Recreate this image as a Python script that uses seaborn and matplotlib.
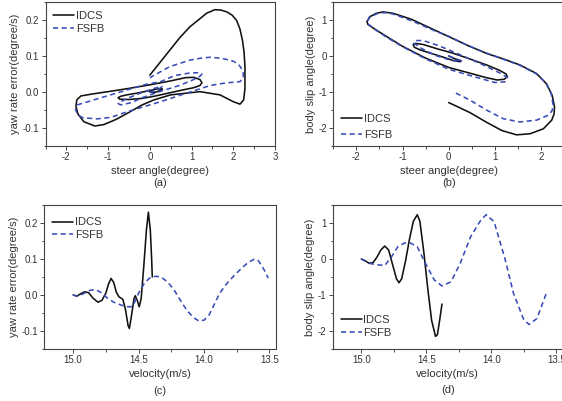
import matplotlib
matplotlib.use("Agg")
import matplotlib.pyplot as plt
import seaborn as sns
import pandas as pd
from matplotlib.ticker import MultipleLocator

sns.set_theme(style="ticks")
plt.rcParams['font.family'] = ['Liberation Sans', 'DejaVu Sans']
plt.rcParams['axes.unicode_minus'] = False

# ---------------- data ----------------
# (a) yaw rate error vs steer angle
a_idcs_steer = [0.00, 0.10, 0.20, 0.27, 0.30, 0.28, 0.15, 0.00, -0.30, -0.55, -0.70, -0.76, -0.72, -0.50,
                -0.20, 0.10, 0.45, 0.80, 1.05, 1.20, 1.25, 1.20, 1.05, 0.85, 0.50, 0.00, -0.50, -1.00,
                -1.40, -1.65, -1.75, -1.77, -1.72, -1.58, -1.32, -1.10, -0.80, -0.50, -0.20, 0.10, 0.50,
                0.90, 1.20, 1.68, 2.00, 2.16, 2.25, 2.28, 2.28, 2.26, 2.22, 2.16, 2.08, 1.97, 1.84, 1.70,
                1.56, 1.36, 1.15, 0.96, 0.72, 0.48, 0.24, 0.00]
a_idcs_yaw = [0.000, -0.002, 0.002, 0.006, 0.008, 0.010, 0.008, 0.004, -0.003, -0.008, -0.012, -0.016,
              -0.020, -0.021, -0.018, -0.012, -0.003, 0.006, 0.012, 0.018, 0.026, 0.035, 0.041, 0.040,
              0.031, 0.020, 0.010, 0.001, -0.006, -0.011, -0.022, -0.040, -0.062, -0.083, -0.095, -0.091,
              -0.076, -0.057, -0.037, -0.022, -0.008, -0.003, 0.001, -0.008, -0.027, -0.034, -0.022,
              0.010, 0.070, 0.110, 0.145, 0.176, 0.200, 0.215, 0.224, 0.229, 0.230, 0.220, 0.200, 0.182,
              0.152, 0.117, 0.082, 0.047]
a_fsfb_steer = [0.00, 0.12, 0.24, 0.29, 0.22, 0.05, -0.25, -0.50, -0.68, -0.76, -0.70, -0.45, -0.14, 0.26,
                0.70, 1.00, 1.20, 1.25, 1.18, 0.95, 0.60, 0.26, -0.14, -0.54, -0.94, -1.34, -1.74, -1.78,
                -1.72, -1.60, -1.26, -0.94, -0.54, -0.14, 0.26, 0.70, 1.10, 1.44, 1.80, 2.16, 2.24, 2.24,
                2.19, 2.12, 2.00, 1.84, 1.64, 1.44, 1.20, 0.96, 0.48, 0.00]
a_fsfb_yaw = [0.000, 0.002, 0.010, 0.015, 0.014, 0.008, -0.004, -0.016, -0.026, -0.032, -0.036, -0.030,
              -0.014, 0.002, 0.018, 0.032, 0.044, 0.050, 0.054, 0.053, 0.046, 0.029, 0.020, 0.006,
              -0.008, -0.022, -0.036, -0.050, -0.065, -0.072, -0.075, -0.071, -0.055, -0.041, -0.027,
              -0.010, 0.005, 0.018, 0.025, 0.029, 0.039, 0.052, 0.067, 0.078, 0.086, 0.091, 0.095, 0.097,
              0.094, 0.089, 0.071, 0.040]

# (b) body slip angle vs steer angle
b_idcs_steer = [0.00, 0.10, 0.20, 0.27, 0.25, 0.10, -0.10, -0.35, -0.62, -0.74, -0.77, -0.72, -0.55, -0.25,
                0.10, 0.45, 0.82, 1.10, 1.24, 1.27, 1.20, 1.05, 0.80, 0.46, 0.00, -0.50, -1.00, -1.34,
                -1.60, -1.75, -1.77, -1.70, -1.57, -1.42, -1.20, -0.80, -0.40, 0.00, 0.40, 0.82, 1.20,
                1.54, 1.90, 2.12, 2.24, 2.29, 2.28, 2.23, 2.05, 1.76, 1.47, 1.15, 0.82, 0.46, 0.20, 0.00]
b_idcs_slip = [0.00, -0.06, -0.11, -0.13, -0.16, -0.13, -0.04, 0.06, 0.17, 0.24, 0.31, 0.35, 0.32, 0.20,
               0.075, -0.08, -0.25, -0.40, -0.50, -0.58, -0.65, -0.67, -0.60, -0.48, -0.32, -0.06, 0.27,
               0.54, 0.75, 0.88, 0.96, 1.10, 1.19, 1.23, 1.19, 1.02, 0.78, 0.54, 0.30, 0.07, -0.09, -0.25,
               -0.49, -0.78, -1.10, -1.42, -1.62, -1.79, -2.03, -2.17, -2.20, -2.08, -1.85, -1.58, -1.42,
               -1.30]
b_fsfb_steer = [0.00, 0.10, 0.22, 0.27, 0.20, 0.00, -0.30, -0.60, -0.76, -0.72, -0.55, -0.20, 0.20, 0.70,
                1.10, 1.27, 1.22, 1.00, 0.50, 0.00, -0.50, -1.00, -1.34, -1.60, -1.77, -1.72, -1.55, -1.40,
                -1.20, -0.80, -0.30, 0.00, 0.40, 0.82, 1.20, 1.54, 1.90, 2.10, 2.22, 2.26, 2.24, 2.16,
                1.90, 1.54, 1.18, 0.82, 0.46, 0.10]
b_fsfb_slip = [0.00, -0.05, -0.11, -0.14, -0.15, -0.10, 0.02, 0.22, 0.36, 0.43, 0.43, 0.28, 0.06, -0.22,
               -0.47, -0.60, -0.72, -0.74, -0.56, -0.37, -0.08, 0.26, 0.52, 0.74, 0.92, 1.08, 1.18, 1.21,
               1.17, 0.98, 0.70, 0.55, 0.30, 0.08, -0.10, -0.26, -0.50, -0.75, -1.05, -1.37, -1.52, -1.65,
               -1.79, -1.84, -1.75, -1.51, -1.23, -1.00]

# (c) yaw rate error vs velocity
c_idcs_vel = [15.00, 14.97, 14.94, 14.91, 14.88, 14.85, 14.81, 14.78, 14.75, 14.73, 14.71, 14.69, 14.67,
              14.65, 14.62, 14.60, 14.58, 14.57, 14.555, 14.535, 14.525, 14.51, 14.495, 14.48, 14.46,
              14.44, 14.425, 14.41, 14.40, 14.395]
c_idcs_yaw = [0.000, -0.003, 0.004, 0.009, 0.006, -0.008, -0.020, -0.015, 0.005, 0.030, 0.046, 0.035,
              0.008, -0.005, -0.012, -0.040, -0.085, -0.093, -0.060, -0.010, -0.002, -0.015, -0.033,
              -0.010, 0.080, 0.180, 0.230, 0.180, 0.100, 0.050]
c_fsfb_vel = [15.00, 14.96, 14.92, 14.87, 14.83, 14.79, 14.74, 14.69, 14.64, 14.60, 14.56, 14.53, 14.50,
              14.46, 14.42, 14.37, 14.33, 14.28, 14.23, 14.18, 14.13, 14.08, 14.04, 14.00, 13.96, 13.92,
              13.88, 13.83, 13.78, 13.72, 13.67, 13.62, 13.59, 13.56, 13.53, 13.51]
c_fsfb_yaw = [0.000, -0.004, 0.004, 0.013, 0.015, 0.008, -0.008, -0.020, -0.027, -0.032, -0.033, -0.020,
              0.005, 0.030, 0.046, 0.052, 0.050, 0.037, 0.015, -0.015, -0.043, -0.063, -0.072, -0.070,
              -0.055, -0.025, 0.005, 0.030, 0.050, 0.072, 0.088, 0.099, 0.098, 0.082, 0.063, 0.047]

# (d) body slip angle vs velocity
d_idcs_vel = [15.00, 14.97, 14.94, 14.91, 14.88, 14.85, 14.82, 14.79, 14.76, 14.73, 14.71, 14.69, 14.66,
              14.63, 14.60, 14.57, 14.55, 14.52, 14.49, 14.46, 14.43, 14.415, 14.40, 14.38]
d_idcs_slip = [0.00, -0.05, -0.12, -0.10, 0.05, 0.25, 0.36, 0.25, -0.15, -0.55, -0.66, -0.55, -0.05, 0.55,
               1.05, 1.23, 1.05, 0.20, -0.80, -1.70, -2.15, -2.10, -1.75, -1.25]
d_fsfb_vel = [15.00, 14.94, 14.88, 14.82, 14.77, 14.72, 14.67, 14.63, 14.57, 14.52, 14.44, 14.38, 14.31,
              14.24, 14.16, 14.08, 14.04, 13.98, 13.90, 13.83, 13.75, 13.71, 13.65, 13.58]
d_fsfb_slip = [0.00, -0.12, -0.16, -0.18, 0.05, 0.34, 0.44, 0.46, 0.34, -0.03, -0.58, -0.75, -0.63, -0.12,
               0.62, 1.09, 1.23, 1.04, 0.06, -0.96, -1.70, -1.82, -1.65, -0.97]

labels = ["IDCS", "FSFB"]
x_labels = ["steer angle(degree)", "steer angle(degree)", "velocity(m/s)", "velocity(m/s)"]
y_labels = ["yaw rate error(degree/s)", "body slip angle(degree)",
            "yaw rate error(degree/s)", "body slip angle(degree)"]
captions = ["(a)", "(b)", "(c)", "(d)"]

# ---------------- figure ----------------
W, H = 562, 401
fig = plt.figure(figsize=(W / 100, H / 100), dpi=100)
fig.patch.set_facecolor("white")

def rect(x0, x1, y0, y1):
    return [x0 / W, 1 - y1 / H, (x1 - x0) / W, (y1 - y0) / H]

axes = [
    fig.add_axes(rect(45.5, 275.0, 2.5, 145.7)),
    fig.add_axes(rect(333.2, 564.2, 2.2, 145.6)),
    fig.add_axes(rect(44.3, 276.0, 205.0, 349.0)),
    fig.add_axes(rect(332.7, 563.0, 205.0, 349.0)),
]

TXT = "#333333"
BLUE = "#3a4cb8"
BLACK = "#111111"
DASH = (3.2, 2.2)

panels = [
    (a_idcs_steer, a_idcs_yaw, a_fsfb_steer, a_fsfb_yaw),
    (b_idcs_steer, b_idcs_slip, b_fsfb_steer, b_fsfb_slip),
    (c_idcs_vel, c_idcs_yaw, c_fsfb_vel, c_fsfb_yaw),
    (d_idcs_vel, d_idcs_slip, d_fsfb_vel, d_fsfb_slip),
]

for i, (ax, (x1, y1, x2, y2)) in enumerate(zip(axes, panels)):
    df1 = pd.DataFrame({"x": x1, "y": y1})
    df2 = pd.DataFrame({"x": x2, "y": y2})
    sns.lineplot(data=df1, x="x", y="y", sort=False, estimator=None, color=BLACK,
                 lw=1.15, ax=ax, label=labels[0])
    sns.lineplot(data=df2, x="x", y="y", sort=False, estimator=None, color=BLUE,
                 lw=1.15, ax=ax, label=labels[1])
    ax.lines[1].set_dashes(DASH)
    ax.set_xlabel(x_labels[i], fontsize=8, color=TXT, labelpad=3)
    ax.set_ylabel(y_labels[i], fontsize=8, color=TXT, labelpad=2)
    for s in ax.spines.values():
        s.set_color("#444444")
        s.set_linewidth(0.8)
    ax.tick_params(which="both", direction="out", colors="#444444", labelcolor=TXT,
                   labelsize=7, width=0.7, pad=1.5)
    ax.tick_params(which="major", length=3)
    ax.tick_params(which="minor", length=1.8)
    ax.set_facecolor("white")

# limits & ticks
axes[0].set_xlim(-2.5, 3.0)
axes[0].set_ylim(-0.15, 0.25)
axes[0].xaxis.set_major_locator(MultipleLocator(1))
axes[0].xaxis.set_minor_locator(MultipleLocator(0.5))
axes[0].yaxis.set_major_locator(MultipleLocator(0.1))
axes[0].yaxis.set_minor_locator(MultipleLocator(0.05))
axes[0].yaxis.set_major_formatter(plt.FuncFormatter(lambda v, p: f"{v:.1f}"))

axes[1].set_xlim(-2.5, 2.5)
axes[1].set_ylim(-2.5, 1.5)
axes[1].xaxis.set_major_locator(MultipleLocator(1))
axes[1].xaxis.set_minor_locator(MultipleLocator(0.5))
axes[1].yaxis.set_major_locator(MultipleLocator(1))
axes[1].yaxis.set_minor_locator(MultipleLocator(0.5))

axes[2].set_xlim(15.22, 13.45)
axes[2].set_ylim(-0.15, 0.25)
axes[2].xaxis.set_major_locator(MultipleLocator(0.5))
axes[2].xaxis.set_minor_locator(MultipleLocator(0.25))
axes[2].yaxis.set_major_locator(MultipleLocator(0.1))
axes[2].yaxis.set_minor_locator(MultipleLocator(0.05))
axes[2].xaxis.set_major_formatter(plt.FuncFormatter(lambda v, p: f"{v:.1f}"))
axes[2].yaxis.set_major_formatter(plt.FuncFormatter(lambda v, p: f"{v:.1f}"))

axes[3].set_xlim(15.22, 13.45)
axes[3].set_ylim(-2.5, 1.5)
axes[3].xaxis.set_major_locator(MultipleLocator(0.5))
axes[3].xaxis.set_minor_locator(MultipleLocator(0.25))
axes[3].yaxis.set_major_locator(MultipleLocator(1))
axes[3].yaxis.set_minor_locator(MultipleLocator(0.5))
axes[3].xaxis.set_major_formatter(plt.FuncFormatter(lambda v, p: f"{v:.1f}"))

# legends
legend_pos = [(0.005, 0.985, "upper left", 0.22), (0.005, -0.01, "lower left", 0.55),
              (0.005, 0.96, "upper left", 0.25), (0.005, 0.03, "lower left", 0.27)]
for ax, (lx, ly, loc, sp) in zip(axes, legend_pos):
    leg = ax.legend(loc=loc, bbox_to_anchor=(lx, ly), frameon=False, fontsize=8,
                    handlelength=1.9, handletextpad=0.15, labelspacing=sp, borderaxespad=0.2)
    for t in leg.get_texts():
        t.set_color(TXT)
    leg.legend_handles[1].set_dashes(DASH)

# captions
cap_y = [-0.26, -0.26, -0.295, -0.285]
for ax, cap, cy in zip(axes, captions, cap_y):
    ax.text(0.5, cy, cap, transform=ax.transAxes, ha="center", va="center",
            fontsize=8, color=TXT)

fig.savefig("out.png", dpi=100, facecolor="white")
